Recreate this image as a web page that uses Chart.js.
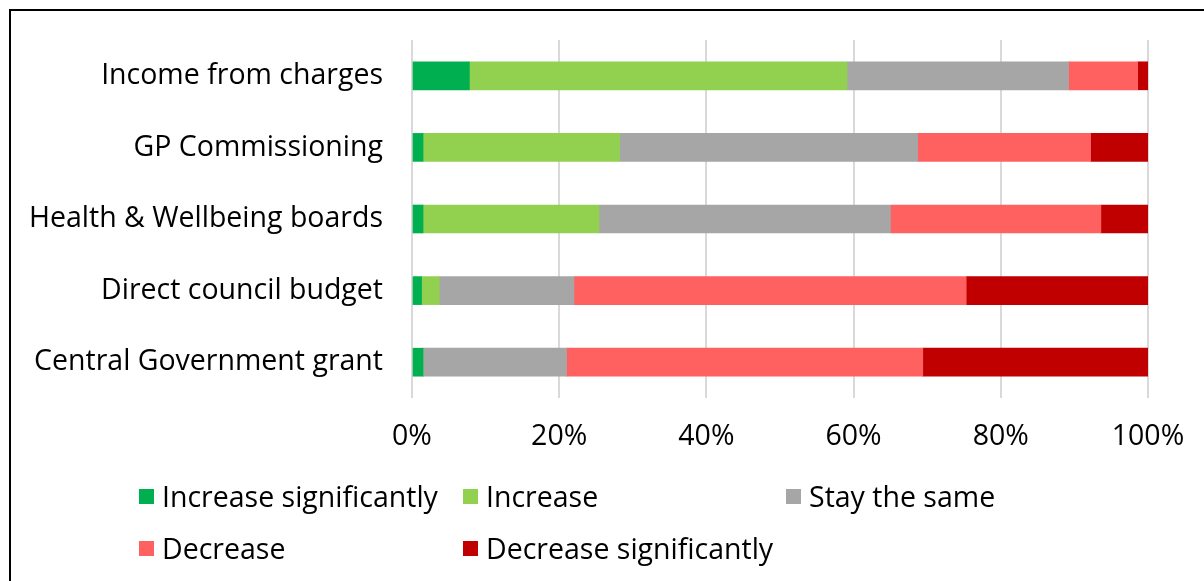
<!DOCTYPE html>
<html>
<head>
<meta charset="utf-8">
<script src="https://cdn.jsdelivr.net/npm/chart.js@4/dist/chart.umd.min.js"></script>
<style>
  html, body { margin: 0; padding: 0; background: #fff; }
  #wrap { position: relative; width: 1204px; height: 581px; overflow: hidden; background: #fff; }
  #frame { position: absolute; left: 9px; top: 9px; width: 1400px; height: 800px;
           border-left: 2px solid #000; border-top: 2px solid #000; box-sizing: border-box; }
  #chart { position: absolute; left: 0; top: 0; }
  #legend { position: absolute; left: 0; top: 0; width: 1204px; height: 581px; pointer-events: none;
            font-family: "Open Sans", sans-serif; font-size: 28.5px; color: #000; }
  .item { position: absolute; display: flex; align-items: center; white-space: nowrap; height: 34px; }
  .swatch { width: 15px; height: 15px; margin-right: 8px; flex: none; }
</style>
</head>
<body>
<div id="wrap">
  <div id="frame"></div>
  <canvas id="chart" width="1204" height="581"></canvas>
  <div id="legend"></div>
</div>
<script>
// Funding sources asked about
const categories = [
  'Income from charges',
  'GP Commissioning',
  'Health & Wellbeing boards',
  'Direct council budget',
  'Central Government grant'
];

// Share of respondents (%) per expected change
const increaseSignificantly = [7.8, 1.5, 1.5, 1.3, 1.5];
const increase              = [51.3, 26.7, 23.9, 2.4, 0];
const staySame              = [30.1, 40.5, 39.6, 18.3, 19.5];
const decrease              = [9.4, 23.5, 28.6, 53.3, 48.4];
const decreaseSignificantly = [1.4, 7.8, 6.4, 24.7, 30.6];

const seriesNames  = ['Increase significantly', 'Increase', 'Stay the same', 'Decrease', 'Decrease significantly'];
const seriesValues = [increaseSignificantly, increase, staySame, decrease, decreaseSignificantly];
const seriesColors = ['#00B050', '#92D050', '#A6A6A6', '#FF6161', '#C00000'];

const tickLabels = ['0%', '20%', '40%', '60%', '80%', '100%'];

const FONT = '"Open Sans", sans-serif';
const FONT_SIZE = 28.5;

const datasets = seriesNames.map((name, i) => ({
  label: name,
  data: seriesValues[i],
  backgroundColor: seriesColors[i],
  borderWidth: 0,
  barThickness: 28
}));

const chart = new Chart(document.getElementById('chart'), {
  type: 'bar',
  data: { labels: categories, datasets },
  options: {
    indexAxis: 'y',
    responsive: false,
    animation: false,
    layout: { padding: { left: 0, top: 40, right: 56, bottom: 0 } },
    plugins: { legend: { display: false }, tooltip: { enabled: false } },
    scales: {
      x: {
        stacked: true,
        min: 0,
        max: 100,
        ticks: {
          stepSize: 20,
          padding: 22,
          color: '#000',
          font: { family: FONT, size: FONT_SIZE },
          callback: (v) => tickLabels[Math.round(v / 20)]
        },
        grid: { color: '#D9D9D9', lineWidth: 2, drawTicks: false },
        border: { display: false },
        afterFit: (scale) => {
          scale.height = 183;
          scale.paddingLeft = 0;
          scale.paddingRight = 0;
        }
      },
      y: {
        stacked: true,
        ticks: {
          padding: 29,
          color: '#000',
          font: { family: FONT, size: FONT_SIZE }
        },
        grid: { display: false, drawTicks: false },
        border: { display: false },
        afterFit: (scale) => {
          scale.width = 412;
          scale.paddingTop = 0;
          scale.paddingBottom = 0;
        }
      }
    }
  }
});

// Legend laid out in a three-column grid below the plot
const legendEl = document.getElementById('legend');
const colX = [139, 463, 786];
const rowY = [479, 531];
seriesNames.forEach((name, i) => {
  const item = document.createElement('div');
  item.className = 'item';
  item.style.left = colX[i % 3] + 'px';
  item.style.top = rowY[Math.floor(i / 3)] + 'px';
  const sw = document.createElement('span');
  sw.className = 'swatch';
  sw.style.background = seriesColors[i];
  const tx = document.createElement('span');
  tx.textContent = name;
  item.appendChild(sw);
  item.appendChild(tx);
  legendEl.appendChild(item);
});
</script>
</body>
</html>
